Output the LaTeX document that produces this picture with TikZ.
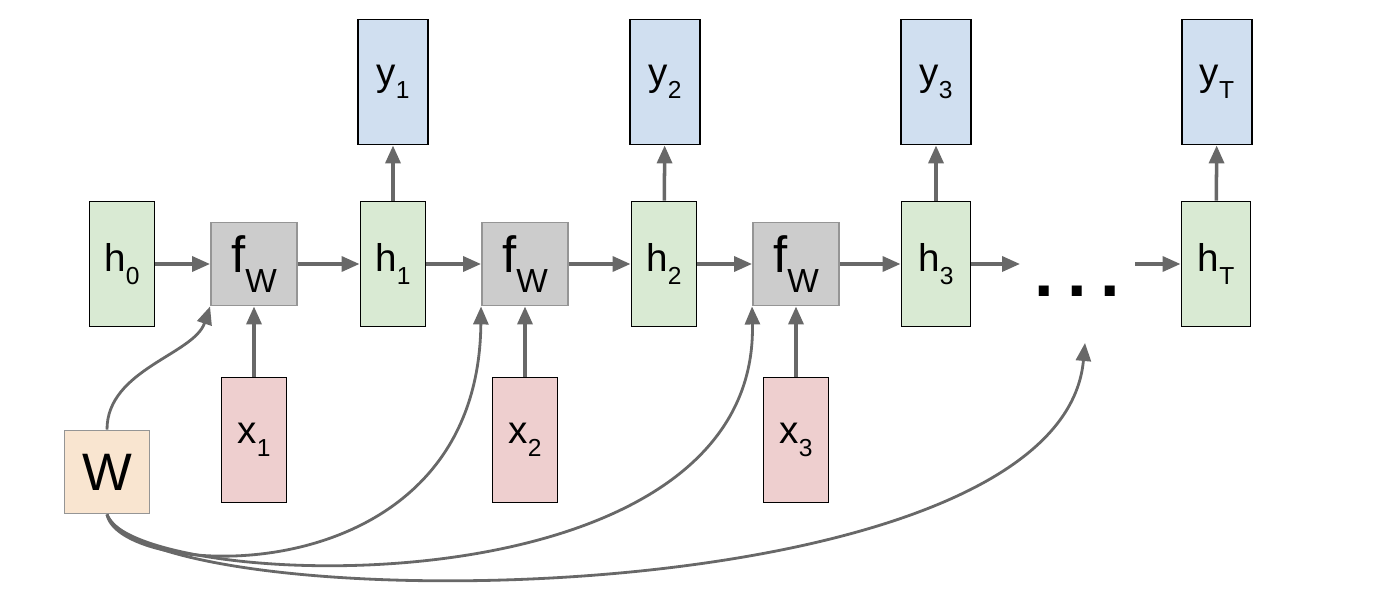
\documentclass[tikz,border=0pt]{standalone}
\usepackage{fontspec}
\setmainfont{Liberation Sans}
\usepackage{tikz}
\usetikzlibrary{positioning,arrows.meta}
\usepackage{xcolor}
\definecolor{hgreen}{HTML}{D9EAD3}
\definecolor{yblue}{HTML}{D0DFF0}
\definecolor{xred}{HTML}{EECFCF}
\definecolor{wtan}{HTML}{F9E5D0}
\definecolor{fgray}{HTML}{CCCCCC}
\definecolor{arrgray}{HTML}{686868}
\newcommand{\lbl}[2]{#1\raisebox{-7.5pt}{\fontsize{14}{14}\selectfont #2}}
\newcommand{\fwlbl}{{\fontsize{29}{29}\selectfont f}\raisebox{-11pt}{\fontsize{19}{19}\selectfont W}}

\begin{document}
\begin{tikzpicture}[x=0.02cm,y=0.02cm,
hnode/.style={rectangle,draw=black,line width=1.1pt,fill=hgreen,inner sep=0pt,minimum width=1.3cm,minimum height=2.5cm,font=\fontsize{22}{22}\selectfont},
ynode/.style={hnode,fill=yblue,minimum width=1.4cm},
xnode/.style={hnode,fill=xred},
fnode/.style={rectangle,draw=arrgray!70,line width=1.1pt,fill=fgray,inner sep=0pt,minimum width=1.72cm,minimum height=1.66cm},
wnode/.style={fnode,fill=wtan,minimum width=1.7cm,font=\fontsize{30}{30}\selectfont},
arrow/.style={-{Triangle[length=0.36cm,width=0.3cm]},line width=2pt,draw=arrgray},
curve/.style={arrow,line width=1.6pt}
]
\useasboundingbox (0,0) rectangle (1386,-590);
% time steps
\node[hnode] (h0) at (122,-264) {\lbl{h}{0}};
\node[fnode] (fW1) at (254,-264) {\fwlbl};
\node[hnode] (h1) at (393,-264) {\lbl{h}{1}};
\node[ynode] (y1) at (393,-82) {\lbl{y}{1}};
\node[xnode] (x1) at (254,-440) {\lbl{x}{1}};
\node[fnode] (fW2) at (525,-264) {\fwlbl};
\node[hnode] (h2) at (664,-264) {\lbl{h}{2}};
\node[ynode] (y2) at (665,-82) {\lbl{y}{2}};
\node[xnode] (x2) at (525,-440) {\lbl{x}{2}};
\node[fnode] (fW3) at (796,-264) {\fwlbl};
\node[hnode,minimum width=1.38cm] (h3) at (936,-264) {\lbl{h}{3}};
\node[ynode] (y3) at (936,-82) {\lbl{y}{3}};
\node[xnode] (x3) at (796,-440) {\lbl{x}{3}};
\node[font=\fontsize{40}{40}\selectfont\bfseries,anchor=base] (dots) at (1077,-297) {.\hspace{0.27cm}.\hspace{0.27cm}.};
\node[hnode,minimum width=1.38cm] (hT) at (1216,-264) {\lbl{h}{T}};
\node[ynode] (yT) at (1217,-82) {\lbl{y}{T}};
\node[wnode] (W) at (107,-472) {W};
\coordinate (gapL) at (1020,-264);
\coordinate (gapR) at (1135,-264);
\coordinate (wend) at (1085,-343);
% recurrence
\draw[arrow] (h0) -- (fW1);
\draw[arrow] (fW1) -- (h1);
\draw[arrow] (h1) -- (fW2);
\draw[arrow] (fW2) -- (h2);
\draw[arrow] (h2) -- (fW3);
\draw[arrow] (fW3) -- (h3);
\draw[arrow] (h3) -- (gapL);
\draw[arrow] (gapR) -- (hT);
% inputs and outputs
\draw[arrow] (x1) -- (fW1);
\draw[arrow] (x2) -- (fW2);
\draw[arrow] (x3) -- (fW3);
\draw[arrow] (h1) -- (y1);
\draw[arrow] (h2) -- (y2);
\draw[arrow] (h3) -- (y3);
\draw[arrow] (hT) -- (yT);
% shared weights
\draw[curve] (W.north) .. controls +(0,60) and +(-16,-48) .. (fW1.south west);
\draw[curve] (W.south) .. controls +(13,-66) and +(-3,-294) .. (fW2.south west);
\draw[curve] (W.south) .. controls +(23,-76) and +(7,-314) .. (fW3.south west);
\draw[curve] (W.south) .. controls +(43,-106) and +(-25,-277) .. (wend);
\end{tikzpicture}
\end{document}
